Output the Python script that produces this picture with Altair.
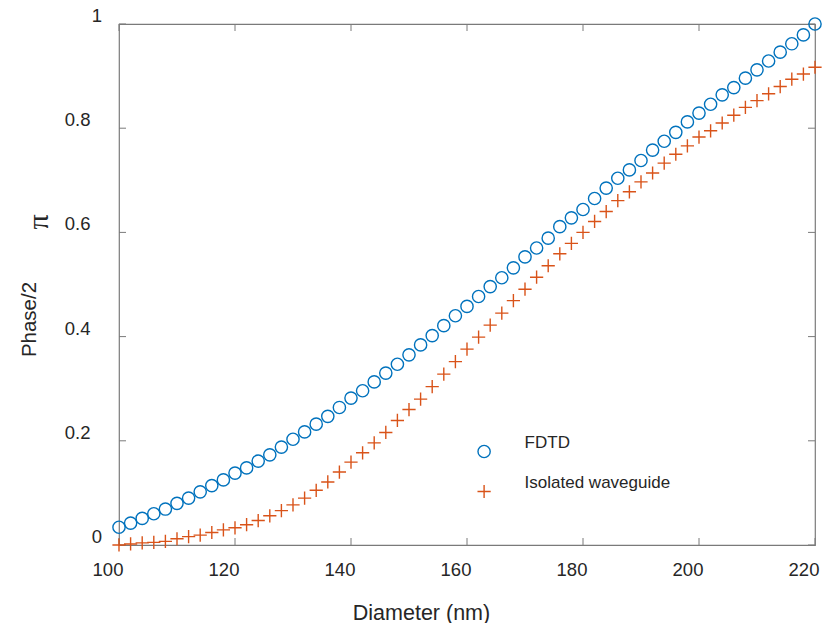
import altair as alt
import pandas as pd

# ---------------- data ----------------
diameter = list(range(100, 221, 2))
fdtd = [0.034, 0.042, 0.051, 0.060, 0.069, 0.080, 0.090, 0.102, 0.114, 0.125,
        0.138, 0.148, 0.161, 0.173, 0.188, 0.203, 0.217, 0.232, 0.247, 0.264,
        0.282, 0.296, 0.313, 0.330, 0.347, 0.365, 0.384, 0.402, 0.421, 0.440,
        0.458, 0.477, 0.496, 0.513, 0.532, 0.553, 0.570, 0.589, 0.611, 0.628,
        0.644, 0.665, 0.685, 0.704, 0.720, 0.738, 0.758, 0.775, 0.792, 0.812,
        0.829, 0.846, 0.864, 0.878, 0.896, 0.912, 0.929, 0.946, 0.962, 0.979,
        1.000]
isolated = [0.000, 0.002, 0.004, 0.005, 0.007, 0.012, 0.016, 0.019, 0.024, 0.029,
            0.033, 0.039, 0.047, 0.056, 0.066, 0.077, 0.090, 0.105, 0.121, 0.140,
            0.159, 0.177, 0.196, 0.216, 0.239, 0.260, 0.280, 0.304, 0.328, 0.352,
            0.376, 0.399, 0.422, 0.445, 0.469, 0.491, 0.514, 0.536, 0.559, 0.579,
            0.600, 0.621, 0.640, 0.661, 0.678, 0.697, 0.714, 0.733, 0.750, 0.766,
            0.783, 0.795, 0.810, 0.825, 0.840, 0.853, 0.866, 0.880, 0.894, 0.904,
            0.917]
series_names = ["FDTD", "Isolated waveguide"]
x_ticks = [100, 120, 140, 160, 180, 200, 220]
y_ticks = [0, 0.2, 0.4, 0.6, 0.8, 1]
pi_label = ["π"]

# ---------------- styling ----------------
W, H = 696, 521
AX = "#7a7a7a"
TXT = "#262626"
FONT = "Liberation Sans"
PLUS = "M-1,0L1,0M0,-1L0,1"
TICK = 7

n = len(diameter)
df = pd.DataFrame({
    "Diameter": diameter + diameter,
    "Phase": fdtd + isolated,
    "Series": [series_names[0]] * n + [series_names[1]] * n,
})
xt_df = pd.DataFrame({"Diameter": x_ticks})
yt_df = pd.DataFrame({"Phase": y_ticks})
pi_df = pd.DataFrame({"label": pi_label})

x_scale = alt.Scale(domain=[100, 220], nice=False, zero=False)
y_scale = alt.Scale(domain=[0, 1], nice=False, zero=False)

X = alt.X(
    "Diameter:Q", scale=x_scale,
    axis=alt.Axis(
        values=x_ticks, ticks=False, tickSize=0, domain=False, grid=False,
        labelFont=FONT, labelFontSize=18.5, labelColor=TXT,
        labelOffset=-11.5, labelPadding=30, labelBaseline="alphabetic",
        labelFlush=False, labelOverlap=False, labelBound=False,
        title="Diameter (nm)", titleFont=FONT, titleFontSize=21.5,
        titleFontWeight="normal", titleColor=TXT,
        titleX=302, titleY=74, titleAlign="center", titleBaseline="alphabetic",
    ),
)
Y = alt.Y(
    "Phase:Q", scale=y_scale,
    axis=alt.Axis(
        values=y_ticks, format="~g", ticks=False, tickSize=0, domain=False, grid=False,
        labelFont=FONT, labelFontSize=18.5, labelColor=TXT,
        labelOffset=-8.5, labelAlign="right", labelBaseline="middle",
        labelPadding={"condition": {"test": "datum.value == 0 || datum.value == 1", "value": 17.5},
                      "value": 29},
        labelFlush=False, labelOverlap=False, labelBound=False,
        title="Phase/2", titleFont=FONT, titleFontSize=20.5,
        titleFontWeight="normal", titleColor=TXT,
        titleX=-84, titleY=295, titleAngle=270, titleAlign="center",
        titleBaseline="alphabetic",
    ),
)

legend = alt.Legend(
    orient="none", legendX=356.6, legendY=419, title=None, padding=0,
    labelFont=FONT, labelFontSize=17, labelColor=TXT, labelOffset=32,
    labelBaseline="bottom", rowPadding=12, symbolStrokeWidth=1.4,
    symbolSize=160, direction="vertical",
)

points = alt.Chart(df).mark_point(filled=False, strokeWidth=1.4, opacity=1, clip=False).encode(
    x=X, y=Y,
    color=alt.Color("Series:N", scale=alt.Scale(domain=series_names, range=["#0072BD", "#D95319"]),
                    legend=legend),
    shape=alt.Shape("Series:N", scale=alt.Scale(domain=series_names, range=["circle", PLUS]),
                    legend=legend),
    size=alt.Size("Series:N", scale=alt.Scale(domain=series_names, range=[150, 175]), legend=None),
)

tick_bottom = alt.Chart(xt_df).mark_rule(color=AX, strokeWidth=1).encode(
    x=X, y=alt.value(H), y2=alt.value(H - TICK))
tick_top = alt.Chart(xt_df).mark_rule(color=AX, strokeWidth=1).encode(
    x=X, y=alt.value(0), y2=alt.value(TICK))
tick_left = alt.Chart(yt_df).mark_rule(color=AX, strokeWidth=1).encode(
    y=Y, x=alt.value(0), x2=alt.value(TICK))
tick_right = alt.Chart(yt_df).mark_rule(color=AX, strokeWidth=1).encode(
    y=Y, x=alt.value(W), x2=alt.value(W - TICK))

pi_text = alt.Chart(pi_df).mark_text(
    angle=270, font="Liberation Serif", fontSize=30, color=TXT,
    align="center", baseline="middle",
).encode(text="label:N", x=alt.value(-80), y=alt.value(198))

chart = alt.layer(
    tick_bottom, tick_top, tick_left, tick_right, points, pi_text
).properties(
    width=W, height=H,
    autosize=alt.AutoSizeParams(type="none"),
    padding={"left": 111, "top": 16, "right": 12, "bottom": 85},
    background="white",
).configure_view(stroke=AX, strokeWidth=1.2)

chart.save("out.html", embed_options={"renderer": "svg", "actions": False})
